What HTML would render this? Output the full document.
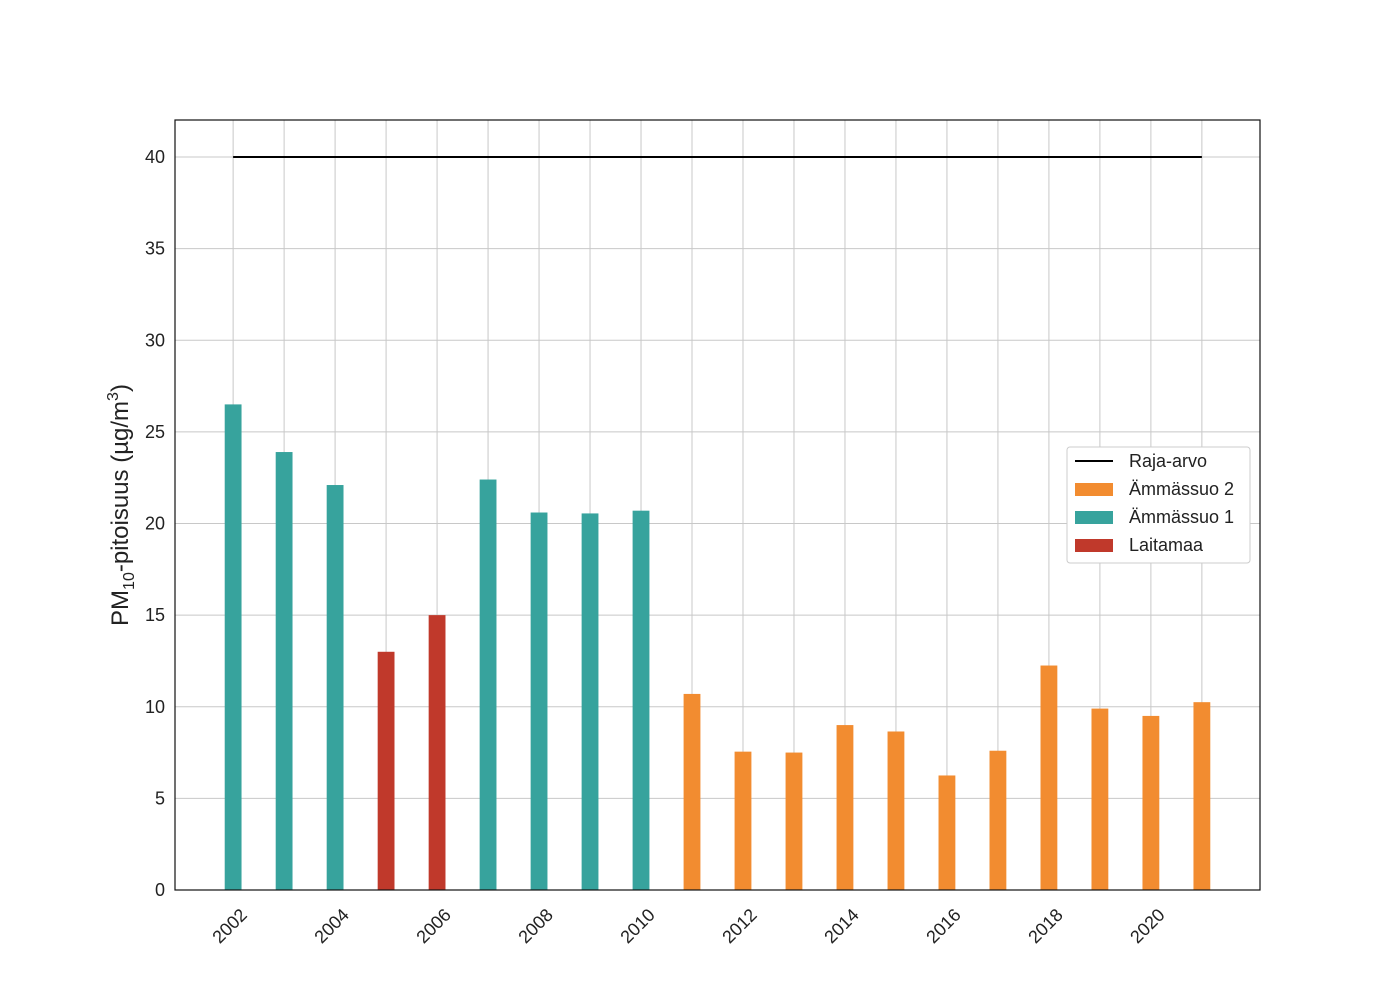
<!DOCTYPE html>
<html><head><meta charset="utf-8"><style>
body{margin:0;background:#fff;font-family:"Liberation Sans",Arial,sans-serif}
</style></head><body>
<svg id="c" width="1400" height="1000" xmlns="http://www.w3.org/2000/svg" font-family="Liberation Sans, Arial, sans-serif"></svg>
<script>
const years=[2002,2003,2004,2005,2006,2007,2008,2009,2010,2011,2012,2013,2014,2015,2016,2017,2018,2019,2020,2021];
const values=[26.5,23.9,22.1,13.0,15.0,22.4,20.6,20.55,20.7,10.7,7.55,7.5,9.0,8.65,6.25,7.6,12.25,9.9,9.5,10.25];
const stations=["A1","A1","A1","L","L","A1","A1","A1","A1","A2","A2","A2","A2","A2","A2","A2","A2","A2","A2","A2"];
const yTicks=[0,5,10,15,20,25,30,35,40];
const xTicks=[2002,2004,2006,2008,2010,2012,2014,2016,2018,2020];
const limitValue=40;
const colors={A1:"#37a39d",L:"#c0392b",A2:"#f28c30"};
const L=175,R=1260,T=120,B=890,xmin=2000.86,xmax=2022.14,ymin=0,ymax=42.02;
const X=v=>L+(v-xmin)/(xmax-xmin)*(R-L);
const Y=v=>B-(v-ymin)/(ymax-ymin)*(B-T);
const svg=document.getElementById('c');const NS="http://www.w3.org/2000/svg";
function el(t,a,txt){const e=document.createElementNS(NS,t);for(const k in a)e.setAttribute(k,a[k]);if(txt!==undefined)e.textContent=txt;svg.appendChild(e);return e;}
years.forEach(y=>{const g=el('line',{x1:X(y),x2:X(y),y1:T,y2:B,stroke:'#c8c8c8','stroke-width':1});

});
yTicks.forEach(v=>{const g=el('line',{x1:L,x2:R,y1:Y(v),y2:Y(v),stroke:'#c8c8c8','stroke-width':1});


const t=el('text',{x:L-10,y:Y(v)+6,'text-anchor':'end','font-size':18,fill:'#222'},String(v));

});
const bw=0.33;
years.forEach((y,i)=>{const r=el('rect',{x:X(y-bw/2),y:Y(values[i]),width:X(y+bw/2)-X(y-bw/2),height:Y(0)-Y(values[i]),fill:colors[stations[i]]});

});
const ln=el('line',{x1:X(years[0]),x2:X(years[years.length-1]),y1:Y(limitValue),y2:Y(limitValue),stroke:'#000','stroke-width':2});


const fr=el('rect',{x:L,y:T,width:R-L,height:B-T,fill:'none',stroke:'#111','stroke-width':1.2});


xTicks.forEach(v=>{const ax=X(v)+15,ay=B+26;const t=el('text',{x:ax,y:ay,'text-anchor':'end','font-size':18,fill:'#222',transform:`rotate(-45 ${ax} ${ay})`},String(v));

});
</script>
<svg style="position:absolute;left:0;top:0" width="1400" height="1000" font-family="Liberation Sans, Arial, sans-serif">
<text transform="translate(128 505) rotate(-90)" text-anchor="middle" font-size="24" fill="#222">PM<tspan font-size="16" dy="6">10</tspan><tspan dy="-6">-pitoisuus (µg/m</tspan><tspan font-size="16" dy="-10">3</tspan><tspan dy="10">)</tspan></text>
<g>
<rect x="1067" y="447" width="183" height="116" rx="3" fill="#fff" stroke="#ccc"/>
<line x1="1075" x2="1113" y1="461" y2="461" stroke="#000" stroke-width="2"/>
<text x="1129" y="467" font-size="18" fill="#222">Raja-arvo</text>
<rect x="1075" y="483" width="38" height="13" fill="#f28c30"/>
<text x="1129" y="495" font-size="18" fill="#222">Ämmässuo 2</text>
<rect x="1075" y="511" width="38" height="13" fill="#37a39d"/>
<text x="1129" y="523" font-size="18" fill="#222">Ämmässuo 1</text>
<rect x="1075" y="539" width="38" height="13" fill="#c0392b"/>
<text x="1129" y="551" font-size="18" fill="#222">Laitamaa</text>
</g></svg>
</body></html>
